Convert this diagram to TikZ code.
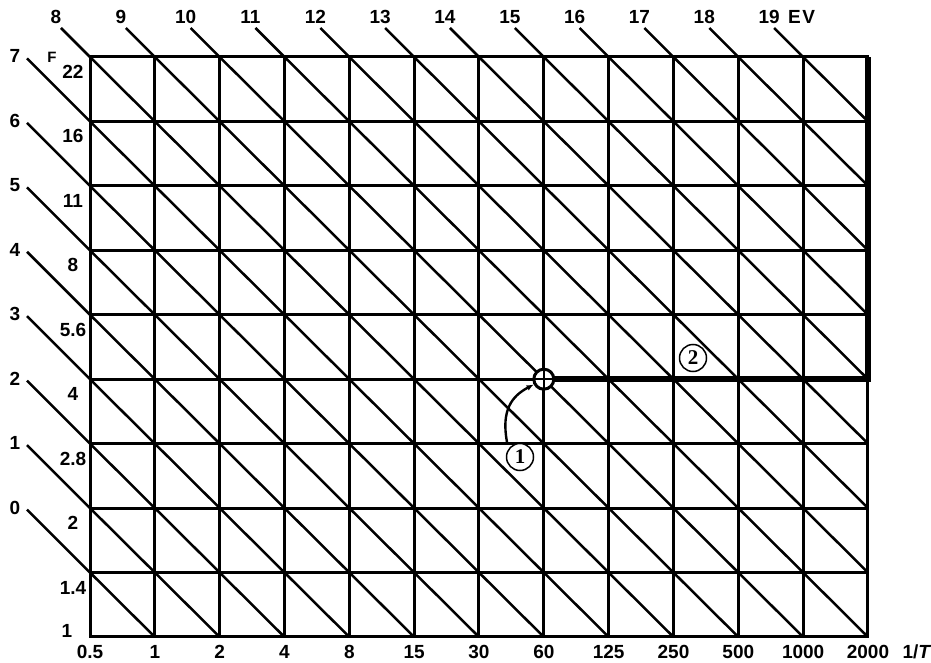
\documentclass[tikz,border=0pt]{standalone}
\usepackage{fontspec}
\setmainfont{Liberation Sans}
\newfontfamily\circfont{Liberation Serif}
\usetikzlibrary{positioning,arrows.meta}
\begin{document}
\begin{tikzpicture}[x=1pt,y=-1pt,
  every node/.style={font=\bfseries\fontsize{19}{19}\selectfont, inner sep=1pt},
  gridline/.style={line width=3pt, line cap=rect},
  diagline/.style={line width=2.5pt},
  pathline/.style={line width=6pt},
  circled/.style={circle, draw, fill=white, line width=1.5pt, minimum size=27pt, inner sep=0pt,
    font=\circfont\bfseries\fontsize{21}{21}\selectfont}]
\useasboundingbox (0,0) rectangle (931,663);
\foreach \colnum in {0,...,12}
  \foreach \rownum in {0,...,9}
    \coordinate (g\colnum-\rownum) at ({90+64.83*\colnum},{57+64.44*\rownum});
\foreach \rownum in {0,...,9}
  \draw[gridline] (g0-\rownum) -- (g12-\rownum);
\foreach \colnum in {0,...,12}
  \draw[gridline] (g\colnum-0) -- (g\colnum-9);
\foreach \d in {-8,...,11} {
  \pgfmathtruncatemacro\ca{max(0,\d)}
  \pgfmathtruncatemacro\ra{max(0,-\d)}
  \pgfmathtruncatemacro\dl{min(12-\ca,9-\ra)}
  \pgfmathtruncatemacro\cb{\ca+\dl}
  \pgfmathtruncatemacro\rb{\ra+\dl}
  \draw[diagline] (g\ca-\ra) -- (g\cb-\rb);
}
\foreach \e in {8,...,19} {
  \pgfmathtruncatemacro\colnum{\e-8}
  \path (g\colnum-0) ++(-29,-29) coordinate (a\e) ++(-5,-11) node (ev\e) {\e};
  \draw[diagline] (a\e) -- (g\colnum-0);
}
\foreach \e in {0,...,7} {
  \pgfmathtruncatemacro\rownum{8-\e}
  \path (g0-\rownum) ++(-63,-63) coordinate (a\e) ++(-12,-2) node (ev\e) {\e};
  \draw[diagline] (a\e) -- (g0-\rownum);
}
\node[right=6pt of ev19] (evunit) {E\kern1.5pt V};
\node[font=\bfseries\fontsize{15}{15}\selectfont] (flabel) at (52,57) {F};
\foreach \v [count=\i from 0] in {22,16,11,8,5.6,4,2.8,2,1.4}
  \node (f\i) at (73,{72+64.44*\i}) {\v};
\node (f9) at (67,631) {1};
\foreach \v [count=\i from 0] in {0.5,1,2,4,8,15,30,60,125,250,500,1000,2000}
  \node (s\i) at ({90+64.83*\i},652) {\v};
\node (unit) at (917,652) {1/\textit{T}};
\node[circle, draw, fill=white, line width=3pt, minimum size=20pt, inner sep=0pt,
  path picture={\draw[line width=1.5pt] (path picture bounding box.north) -- (path picture bounding box.south)
    (path picture bounding box.west) -- (path picture bounding box.east);}] (m) at (g7-5) {};
\draw[pathline] (m) -- (g12-5) -- (g12-0);
\node[circled] (n1) at (520,457) {1};
\node[circled] (n2) at (693,358) {2};
\coordinate (cs) at (507,442);
\draw[line width=2.4pt, -{Latex[length=7pt,width=6pt]}] (cs) .. controls (501,410) and (512,396) .. (m);
\end{tikzpicture}
\end{document}
